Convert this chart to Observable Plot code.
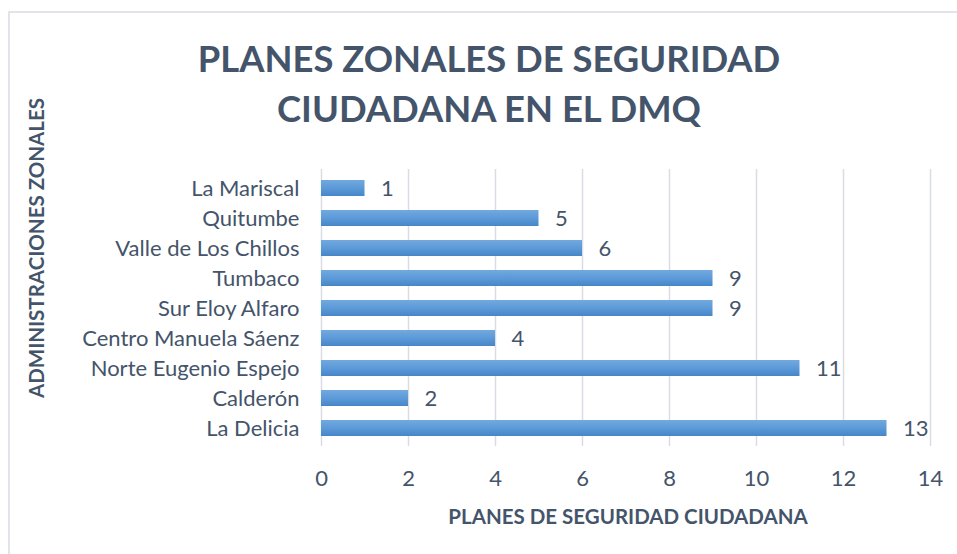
<!DOCTYPE html>
<html>
<head>
<meta charset="utf-8">
<script src="https://cdn.jsdelivr.net/npm/d3@7"></script>
<script src="https://cdn.jsdelivr.net/npm/@observablehq/plot@0.6"></script>
<style>
  html, body { margin: 0; padding: 0; background: #fff; }
  #wrap { position: relative; width: 957px; height: 554px; overflow: hidden; }
  #border { position: absolute; left: 8px; top: 11px; width: 1000px; height: 600px;
            border-top: 2px solid #e1e5ea; border-left: 2px solid #e1e5ea; pointer-events: none; }
  #wrap svg { position: absolute; left: 0; top: 0; }
</style>
</head>
<body>
<div id="wrap"><div id="border"></div></div>
<script>
const categories = ["La Mariscal", "Quitumbe", "Valle de Los Chillos", "Tumbaco", "Sur Eloy Alfaro",
  "Centro Manuela Sáenz", "Norte Eugenio Espejo", "Calderón", "La Delicia"];
const values = [1, 5, 6, 9, 9, 4, 11, 2, 13];
const xTicks = [0, 2, 4, 6, 8, 10, 12, 14];
const titleLines = ["PLANES ZONALES DE SEGURIDAD", "CIUDADANA EN EL DMQ"];
const xTitle = "PLANES DE SEGURIDAD CIUDADANA";
const yTitle = "ADMINISTRACIONES ZONALES";

const data = categories.map((c, i) => ({cat: c, val: values[i]}));
const ink = "#44546A";
const font = "Lato, 'Open Sans', sans-serif";

const svg = Plot.plot({
  width: 957,
  height: 554,
  marginLeft: 321,
  marginRight: 27,
  marginTop: 169,
  marginBottom: 108,
  style: {fontFamily: font, fontSize: "22px", color: ink, background: "transparent", overflow: "visible"},
  x: {domain: [0, 14], ticks: xTicks, tickSize: 0, tickPadding: 24, label: null},
  y: {domain: categories, paddingInner: 0.48, paddingOuter: 0.22, tickSize: 0, tickPadding: 22, label: null},
  marks: [
    Plot.ruleX(xTicks, {stroke: "#d9dde3", strokeWidth: 1.5}),
    Plot.barX(data, {x: "val", y: "cat", fill: "url(#barGrad)"}),
    Plot.text(data, {x: "val", y: "cat", text: d => String(d.val), textAnchor: "start", dx: 16,
      fill: ink, fontSize: 22}),
    Plot.axisX({ticks: xTicks, tickSize: 0, tickPadding: 24, fill: ink, fontSize: 22}),
    Plot.axisY({tickSize: 0, tickPadding: 22, fill: ink, fontSize: 22}),
    Plot.text([titleLines[0]], {frameAnchor: "top", text: d => d, dx: -137, dy: -109,
      fontSize: 36.4, fontWeight: "bold", fill: ink, lineAnchor: "middle", textAnchor: "middle"}),
    Plot.text([titleLines[1]], {frameAnchor: "top", text: d => d, dx: -137, dy: -59,
      fontSize: 36.4, fontWeight: "bold", fill: ink, lineAnchor: "middle", textAnchor: "middle"}),
    Plot.text([xTitle], {frameAnchor: "bottom", text: d => d, dx: 2, dy: 71,
      fontSize: 20.5, fontWeight: "bold", fill: ink, lineAnchor: "middle", textAnchor: "middle"}),
    Plot.text([yTitle], {frameAnchor: "left", text: d => d, dx: -284, dy: -60, rotate: -90,
      fontSize: 20.5, fontWeight: "bold", fill: ink, lineAnchor: "middle", textAnchor: "middle"})
  ]
});

const defs = d3.select(svg).insert("defs", ":first-child");
const g = defs.append("linearGradient").attr("id", "barGrad")
  .attr("x1", 0).attr("y1", 0).attr("x2", 0).attr("y2", 1);
g.append("stop").attr("offset", "0%").attr("stop-color", "#72a9de");
g.append("stop").attr("offset", "50%").attr("stop-color", "#5c9ad8");
g.append("stop").attr("offset", "100%").attr("stop-color", "#4686c8");

document.getElementById("wrap").appendChild(svg);
</script>
</body>
</html>
